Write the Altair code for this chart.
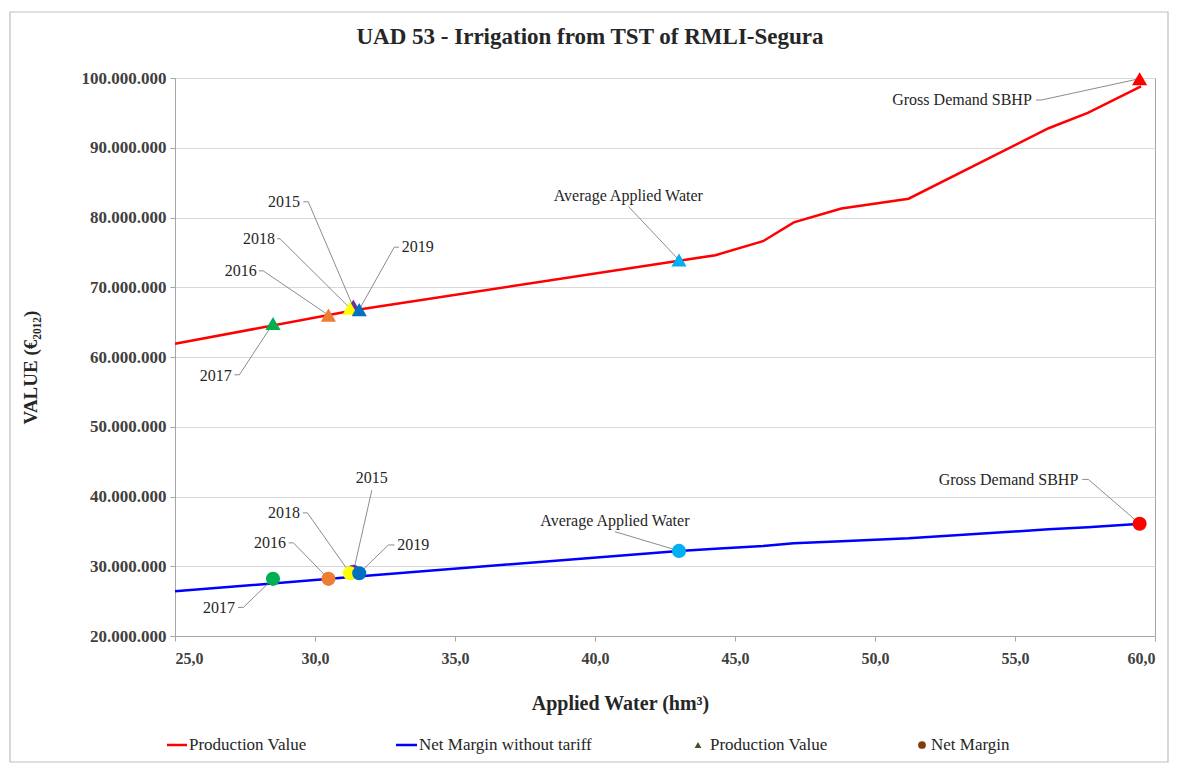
import altair as alt
import pandas as pd

FONT = "Liberation Serif"

# ---- line series (Applied water hm3, value in million EUR) ----
line_x = [25.0, 31.4, 43.0, 44.3, 46.0, 47.1, 48.8, 51.2, 56.2, 57.6, 59.5]
prod_value = [61.9, 66.7, 73.8, 74.6, 76.6, 79.3, 81.3, 82.7, 92.8, 95.0, 98.8]
net_margin = [26.4, 28.5, 32.2, 32.5, 32.9, 33.3, 33.6, 34.0, 35.3, 35.6, 36.1]

# ---- highlighted points ----
point_keys = ["2015", "2016", "2017", "2018", "2019", "Average", "Gross"]
point_colors = ["#7030A0", "#ED7D31", "#00B050", "#FFFF00", "#0070C0", "#00B0F0", "#FF0000"]
point_x = [31.37, 30.48, 28.5, 31.25, 31.58, 43.0, 59.45]
point_prod = [67.3, 66.0, 64.8, 67.0, 66.8, 73.9, 99.9]
point_net = [29.2, 28.2, 28.2, 29.0, 29.0, 32.2, 36.1]

# ---- annotation labels ----
ann_text = ["2015", "2018", "2016", "2019", "2017", "Average Applied  Water", "Gross Demand SBHP",
            "2015", "2018", "2016", "2019", "2017", "Average Applied  Water", "Gross Demand SBHP"]
ann_x = [29.46, 28.57, 27.92, 33.10, 27.03, 41.19, 55.60,
         32.03, 29.46, 28.96, 32.94, 27.14, 40.71, 57.26]
ann_y = [82.2, 76.9, 72.3, 75.7, 57.3, 83.1, 96.8,
         42.6, 37.6, 33.3, 33.05, 24.0, 36.5, 42.4]
ann_align = ["right", "right", "right", "left", "right", "center", "right",
             "center", "right", "right", "left", "right", "center", "right"]

# ---- leader lines (id, x, y) ----
lead_id = ["t15", "t15", "t15", "t18", "t18", "t18", "t16", "t16", "t16", "t19", "t19", "t19",
           "t17", "t17", "t17", "tav", "tav", "tgr", "tgr", "tgr",
           "b15", "b15", "b18", "b18", "b18", "b16", "b16", "b16", "b19", "b19", "b19",
           "b17", "b17", "b17", "bav", "bav", "bgr", "bgr", "bgr"]
lead_x = [29.58, 29.76, 31.33, 28.65, 28.75, 31.25, 28.00, 28.15, 30.48, 33.00, 32.83, 31.58,
          27.12, 27.30, 28.5, 41.19, 43.0, 55.75, 55.95, 59.45,
          32.03, 31.37, 29.56, 29.73, 31.25, 29.06, 29.23, 30.48, 32.84, 32.62, 31.58,
          27.25, 27.44, 28.5, 40.71, 43.0, 57.40, 57.62, 59.45]
lead_y = [82.25, 82.25, 67.5, 76.95, 76.95, 67.0, 72.35, 72.35, 66.0, 75.75, 75.75, 66.8,
          57.45, 57.45, 64.8, 81.6, 73.9, 96.85, 96.85, 99.9,
          40.9, 29.2, 37.65, 37.65, 29.0, 33.35, 33.35, 28.2, 33.05, 33.05, 29.0,
          24.1, 24.1, 28.2, 34.96, 32.2, 42.45, 42.45, 36.1]

M = 1_000_000
lines_df = pd.DataFrame({
    "x": line_x * 2,
    "y": [v * M for v in prod_value] + [v * M for v in net_margin],
    "series": ["Production Value"] * len(line_x) + ["Net Margin without tariff"] * len(line_x),
})
prod_df = pd.DataFrame({"key": point_keys, "x": point_x, "y": [v * M for v in point_prod],
                        "c": point_colors})
net_df = pd.DataFrame({"key": point_keys, "x": point_x, "y": [v * M for v in point_net],
                       "c": point_colors})
ann_df = pd.DataFrame({"text": ann_text, "x": ann_x, "y": [v * M for v in ann_y], "align": ann_align})
lead_df = pd.DataFrame({"id": lead_id, "x": lead_x, "y": [v * M for v in lead_y],
                        "order": list(range(len(lead_id)))})

xscale = alt.Scale(domain=[25, 60], nice=False, zero=False)
yscale = alt.Scale(domain=[20 * M, 100 * M], nice=False, zero=False)

xaxis = alt.Axis(values=[25, 30, 35, 40, 45, 50, 55, 60],
                 labelExpr="replace(format(datum.value, '.1f'), '.', ',')",
                 grid=False, title="Applied Water (hm³)",
                 titleX=445, titleY=67, titleAlign="center", titleBaseline="middle")
yaxis = alt.Axis(values=[v * M for v in range(20, 101, 10)],
                 labelExpr="replace(replace(format(datum.value, ',.0f'), ',', '.'), ',', '.')",
                 grid=True, title="VALUE  (€₂₀₁₂)",
                 titleX=-145, titleY=289, titleAlign="center", titleBaseline="middle", titleAngle=270)

X = alt.X("x:Q", scale=xscale, axis=xaxis)
Y = alt.Y("y:Q", scale=yscale, axis=yaxis)
Xn = alt.X("x:Q", scale=xscale)
Yn = alt.Y("y:Q", scale=yscale)

base_lines = alt.Chart(lines_df).mark_line(strokeWidth=2.5).encode(
    x=X, y=Y,
    stroke=alt.Stroke("series:N", scale=alt.Scale(domain=["Production Value", "Net Margin without tariff"],
                                                  range=["#FF0000", "#0000FF"]), legend=None),
    detail="series:N",
)

leaders = alt.Chart(lead_df).mark_line(strokeWidth=0.9, color="#7f7f7f").encode(
    x=Xn, y=Yn, detail="id:N", order="order:Q")

pfill = alt.Fill("c:N", scale=None)
tri = alt.Chart(prod_df).mark_point(shape="triangle-up", filled=True, size=230, opacity=1,
                                    strokeWidth=0).encode(x=Xn, y=Yn, fill=pfill)
circ = alt.Chart(net_df).mark_point(shape="circle", filled=True, size=200, opacity=1,
                                    strokeWidth=0).encode(x=Xn, y=Yn, fill=pfill)

def ann_layer(al):
    return alt.Chart(ann_df).transform_filter(alt.datum.align == al).mark_text(
        align=al, baseline="middle", font=FONT, fontSize=16, color="#262626").encode(
        x=Xn, y=Yn, text="text:N")

ann_layers = [ann_layer("right"), ann_layer("left"), ann_layer("center")]

one = pd.DataFrame({"a": [0]})
frame = alt.Chart(one).mark_rect(fill="transparent", stroke="#bfbfbf", strokeWidth=1.2).encode(
    x=alt.value(-165), x2=alt.value(993), y=alt.value(-66), y2=alt.value(684))
title = alt.Chart(one).mark_text(font=FONT, fontSize=23, fontWeight="bold", color="#262626",
                                 align="center", baseline="middle").encode(
    x=alt.value(415), y=alt.value(-41), text=alt.value("UAD 53 - Irrigation from TST of RMLI-Segura"))

# ---- manual legend ----
LY = 667
leg = [
    alt.Chart(one).mark_rule(color="#FF0000", strokeWidth=2.5).encode(
        x=alt.value(-8), x2=alt.value(12), y=alt.value(LY)),
    alt.Chart(one).mark_text(align="left", baseline="middle", font=FONT, fontSize=17, color="#262626").encode(
        x=alt.value(14), y=alt.value(LY), text=alt.value("Production Value")),
    alt.Chart(one).mark_rule(color="#0000FF", strokeWidth=2.5).encode(
        x=alt.value(221), x2=alt.value(242), y=alt.value(LY)),
    alt.Chart(one).mark_text(align="left", baseline="middle", font=FONT, fontSize=17, color="#262626").encode(
        x=alt.value(244), y=alt.value(LY), text=alt.value("Net Margin without tariff")),
    alt.Chart(one).mark_point(shape="triangle-up", filled=True, size=45, color="#375623", opacity=1).encode(
        x=alt.value(523), y=alt.value(LY)),
    alt.Chart(one).mark_text(align="left", baseline="middle", font=FONT, fontSize=17, color="#262626").encode(
        x=alt.value(535), y=alt.value(LY), text=alt.value("Production Value")),
    alt.Chart(one).mark_point(shape="circle", filled=True, size=60, color="#843C0C", opacity=1).encode(
        x=alt.value(747), y=alt.value(LY)),
    alt.Chart(one).mark_text(align="left", baseline="middle", font=FONT, fontSize=17, color="#262626").encode(
        x=alt.value(756), y=alt.value(LY), text=alt.value("Net Margin")),
]

chart = alt.layer(frame, title, base_lines, leaders, tri, circ, *ann_layers, *leg).properties(
    width=980, height=558,
    autosize=alt.AutoSizeParams(type="none"),
    padding={"left": 167, "top": 70, "right": 15, "bottom": 128},
).configure_view(stroke="#a6a6a6", strokeWidth=1).configure_axis(
    labelFont=FONT, labelFontWeight="bold", labelFontSize=16, labelColor="#404040",
    titleFont=FONT, titleFontWeight="bold", titleFontSize=20, titleColor="#262626",
    domainColor="#a6a6a6", tickColor="#a6a6a6", tickSize=5, gridColor="#d9d9d9",
).configure_axisY(labelPadding=4, labelFontSize=17, titleFontSize=19).configure_axisX(labelPadding=9)

chart.save("out.html", embed_options={"renderer": "svg", "actions": False})
